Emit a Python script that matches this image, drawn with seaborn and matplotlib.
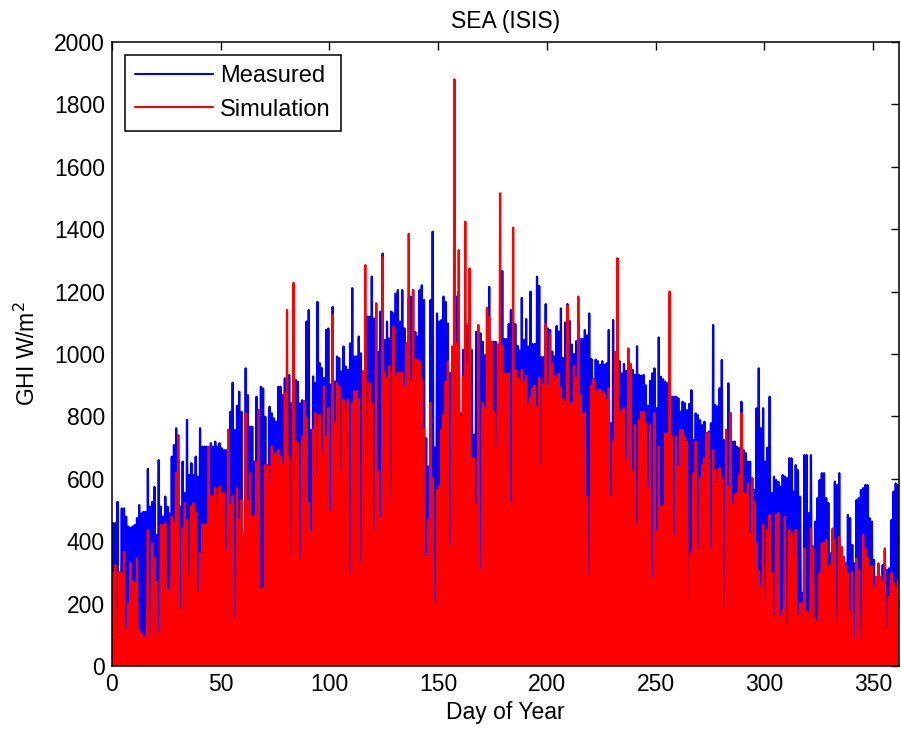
import numpy as np
import matplotlib
matplotlib.use("Agg")
import matplotlib.pyplot as plt
import seaborn as sns

# Daily peak GHI (W/m^2), day 0 .. 361
measured_peak = [
    458, 458, 526, 175, 505, 505, 479, 447, 442, 447, 452, 474, 516, 489, 494, 494, 632, 511, 526, 574,
    420, 660, 511, 479, 543, 511, 489, 671, 708, 762, 660, 511, 655, 554, 789, 612, 650, 612, 671, 607,
    762, 703, 703,
    703, 580, 714, 703, 719, 703, 714, 698, 692, 692, 756, 815, 908, 756, 834, 879, 815, 425, 954, 868,
    767, 767, 655, 863, 820, 895, 890, 799, 644, 831, 810, 794, 783, 895, 895, 868, 922, 917, 933, 842,
    852, 917, 911, 842, 852,
    848, 1104, 1141, 757, 928, 907, 1167, 971, 955, 923, 1077, 1082, 902, 1151, 912, 992, 987, 944, 1024, 960,
    949, 1034, 1211, 992, 992, 1056, 1002, 944, 1000, 1120, 1120, 1248, 1114, 1162, 1007, 1136, 1322, 1045, 1104, 1050,
    1136, 1130, 1194, 1205,
    1104, 1205, 1082, 1034, 1180, 1184, 1205, 1071, 1056, 1205, 1220, 1173, 730, 639, 1173, 1392, 700, 1130, 1104, 1109,
    1184, 1167, 1098, 939, 1018, 1150, 1184, 1200, 810, 1013, 1100, 1093, 1150, 1013, 741, 1071, 1066, 1066, 1039, 996,
    1147, 1215, 1039, 1039, 1039,
    1030, 1040, 1266, 1048, 1048, 1096, 1141, 1100, 1096, 1026, 1011, 1180, 1045, 1112, 1024, 1200, 1032, 1032, 1248, 1218,
    990, 990, 1160, 1082, 1077, 1008, 992, 1090, 1072, 1146, 987, 1101, 1160, 1106, 1030, 1000, 1041, 1100, 1048, 1048,
    1077, 1060, 1130, 984,
    920, 982, 977, 965, 977, 965, 970, 1077, 778, 1109, 959, 965, 977, 938, 968, 946, 980, 968, 949, 933,
    1025, 933, 930, 933, 900, 834, 914, 938, 954, 826, 1053, 927, 919, 911, 906, 911, 863, 863, 863, 858,
    815, 847, 842, 820, 840,
    884, 724, 810, 804, 788, 772, 783, 746, 751, 778, 1093, 836, 831, 890, 981, 724, 756, 906, 810, 719,
    719, 703, 698, 847, 692, 682, 655, 655, 602, 565, 826, 954, 762, 826, 655, 700, 863, 554, 607, 596,
    590, 575, 612, 607, 602, 666,
    666, 559, 644, 628, 543, 233, 676, 676, 490, 676, 383, 463, 538, 596, 618, 618, 538, 522, 361, 436,
    591, 580, 618, 356, 350, 329, 484, 474, 388, 329, 532, 538, 564, 570, 580, 580, 474, 463, 340, 260,
    324, 153, 324, 372, 308, 313, 468, 559, 585, 580,
]

simulated_peak = [
    297, 323, 100, 302, 297, 366, 115, 201, 330, 270, 265, 345, 115, 104, 88, 93, 435, 93, 393, 345,
    270, 104, 452, 452, 457, 244, 196, 479, 457, 620, 740, 180, 441, 522, 468, 286, 511, 522, 490, 233,
    361, 452, 452,
    452, 703, 543, 543, 570, 511, 575, 554, 554, 366, 756, 516, 545, 150, 570, 468, 532, 329, 810, 527,
    618, 479, 479, 655, 820, 244, 249, 644, 644, 585, 703, 676, 682, 692, 671, 644, 874, 1141, 666, 350,
    1228, 719, 714, 339, 735,
    848, 794, 522, 431, 757, 810, 602, 805, 682, 896, 736, 827, 495, 1125, 778, 907, 896, 623, 853, 822,
    853, 292, 843, 880, 880, 853, 329, 944, 1285, 671, 907, 843, 431, 1162, 623, 474, 1311, 939, 923, 960,
    517, 1087, 928, 939,
    939, 939, 896, 1034, 1385, 912, 1205, 981, 981, 976, 918, 757, 350, 468, 843, 602, 200, 564, 575, 757,
    805, 912, 976, 382, 1024, 1880, 1034, 1333, 800, 928, 1424, 960, 1274, 666, 666, 516, 1093, 307, 843, 827,
    1147, 1120, 1039, 816, 698,
    1030, 1515, 1024, 937, 937, 937, 520, 1405, 949, 924, 905, 949, 911, 930, 836, 861, 892, 898, 830, 924,
    640, 905, 1096, 898, 1065, 968, 930, 924, 937, 892, 854, 848, 1155, 836, 842, 962, 924, 1184, 867, 810,
    810, 543, 288, 898,
    919, 879, 885, 885, 879, 872, 852, 890, 540, 720, 1007, 1307, 810, 820, 826, 662, 1018, 968, 623, 772,
    453, 788, 815, 815, 778, 570, 772, 280, 810, 431, 704, 509, 514, 746, 746, 1200, 735, 415, 735, 639,
    757, 756, 735, 720, 211,
    361, 618, 719, 372, 602, 644, 666, 746, 746, 372, 692, 628, 585, 634, 600, 180, 756, 575, 810, 516,
    549, 554, 612, 810, 554, 549, 585, 425, 602, 527, 393, 303, 254, 452, 201, 436, 484, 297, 158, 484,
    490, 158, 180, 479, 126, 436,
    425, 350, 436, 163, 201, 201, 377, 174, 169, 441, 377, 147, 142, 297, 393, 393, 404, 318, 324, 441,
    404, 142, 414, 383, 345, 318, 297, 174, 302, 83, 345, 308, 83, 420, 377, 345, 318, 318, 254, 286,
    329, 286, 270, 377, 116, 222, 297, 265, 249, 276,
]

series_names = ["Measured", "Simulation"]
series_colors = ["#0000ff", "#ff0000"]
x_ticks = [0, 50, 100, 150, 200, 250, 300, 350]
y_ticks = [0, 200, 400, 600, 800, 1000, 1200, 1400, 1600, 1800, 2000]


def day_profile(peaks):
    """Each day rises from 0 at night to its peak at midday and back to 0."""
    n = len(peaks)
    x = np.zeros(2 * n + 1)
    y = np.zeros(2 * n + 1)
    x[0:2 * n:2] = np.arange(n)
    x[1:2 * n:2] = np.arange(n) + 0.5
    x[-1] = n
    y[1:2 * n:2] = peaks
    return x, y


sns.set_theme(style="white")
plt.rcParams["font.family"] = ["Liberation Sans", "DejaVu Sans"]
plt.rcParams["axes.edgecolor"] = "black"
plt.rcParams["text.color"] = "black"
plt.rcParams["axes.labelcolor"] = "black"
plt.rcParams["xtick.color"] = "black"
plt.rcParams["ytick.color"] = "black"

fs = 16.5
fig = plt.figure(figsize=(9.01, 7.32), dpi=100)
ax = fig.add_axes([112 / 901, 66 / 732, 787 / 901, 624 / 732])

for peaks, name, col in zip([measured_peak, simulated_peak], series_names, series_colors):
    xs, ys = day_profile(peaks)
    sns.lineplot(x=xs, y=ys, color=col, linewidth=1.6, estimator=None, sort=False,
                 label=name, ax=ax)

ax.set_xlim(0, len(measured_peak))
ax.set_ylim(0, 2000)
ax.set_xticks(x_ticks)
ax.set_yticks(y_ticks)
ax.tick_params(direction="in", top=True, right=True, length=6, width=1,
               labelsize=fs, pad=5)
for s in ax.spines.values():
    s.set_linewidth(1.1)
    s.set_color("black")

ax.set_title("SEA (ISIS)", fontsize=fs, pad=10)
ax.set_xlabel("Day of Year", fontsize=fs, labelpad=4)
ax.set_ylabel("GHI W/m$^2$", fontsize=fs, labelpad=10)

leg = ax.legend(loc="upper left", fontsize=17, frameon=True, fancybox=False,
                edgecolor="black", framealpha=1, handlelength=3.3,
                handletextpad=0.32, borderaxespad=0.55, labelspacing=0.5,
                borderpad=0.42)
leg.get_frame().set_linewidth(1.1)
for line in leg.get_lines():
    line.set_linewidth(1.5)

fig.savefig("out.png", dpi=100)
